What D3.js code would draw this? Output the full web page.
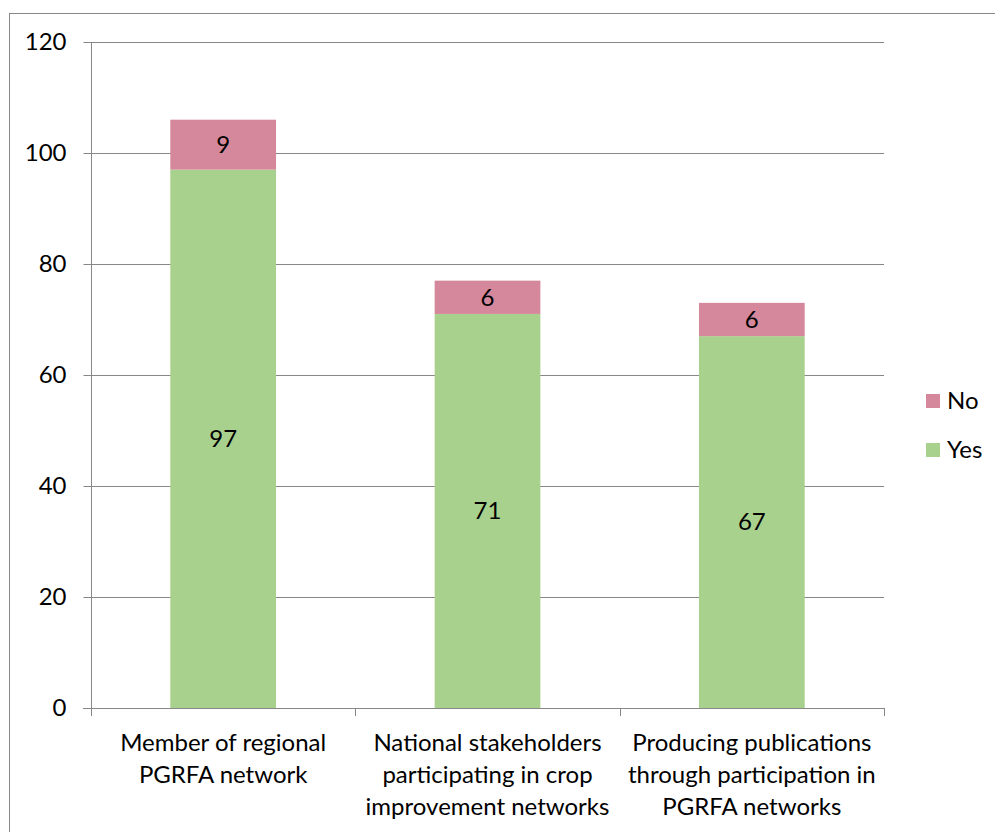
<!DOCTYPE html>
<html><head><meta charset="utf-8">
<script src="https://cdn.jsdelivr.net/npm/d3@7"></script>
<style>body{margin:0;background:#fff}svg{display:block}text{font-family:Lato,"Open Sans",sans-serif;fill:#000}</style>
</head><body><svg id="c" width="995" height="832"></svg>
<script>
const categories = [
  ["Member of regional", "PGRFA network"],
  ["National stakeholders", "participating in crop", "improvement networks"],
  ["Producing publications", "through participation in", "PGRFA networks"]
];
const yesValues = [97, 71, 67];
const noValues = [9, 6, 6];
const yTicks = [0, 20, 40, 60, 80, 100, 120];
const seriesNames = ["No", "Yes"];
const colors = {Yes: "#a9d18e", No: "#d5889b"};

const svg = d3.select("#c");
const L = 91, R = 884, T = 42, B = 708;
const gray = "#878787";
const FS = 24;

svg.append("rect").attr("x", 9.5).attr("y", 13.5).attr("width", 1000).attr("height", 1000)
  .attr("fill", "none").attr("stroke", gray).attr("stroke-width", 1);

const x = d3.scaleBand().domain(d3.range(categories.length)).range([L, R]).paddingInner(0.6).paddingOuter(0.3);
const band = d3.scaleBand().domain(d3.range(categories.length)).range([L, R]);
const y = d3.scaleLinear().domain([0, 120]).range([B, T]);

// gridlines
svg.append("g").selectAll("line").data(yTicks.filter(d => d > 0)).join("line")
  .attr("x1", L).attr("x2", R).attr("y1", d => Math.round(y(d)) + 0.5).attr("y2", d => Math.round(y(d)) + 0.5)
  .attr("stroke", gray).attr("stroke-width", 1);

// bars
const stacked = categories.map((c, i) => ({i, yes: yesValues[i], no: noValues[i]}));
const g = svg.append("g");
g.selectAll("rect.yes").data(stacked).join("rect").attr("class", "yes")
  .attr("x", d => x(d.i)).attr("width", x.bandwidth())
  .attr("y", d => y(d.yes)).attr("height", d => y(0) - y(d.yes)).attr("fill", colors.Yes);
g.selectAll("rect.no").data(stacked).join("rect").attr("class", "no")
  .attr("x", d => x(d.i)).attr("width", x.bandwidth())
  .attr("y", d => y(d.yes + d.no)).attr("height", d => y(d.yes) - y(d.yes + d.no)).attr("fill", colors.No);

// data labels
g.selectAll("text.ly").data(stacked).join("text")
  .attr("x", d => x(d.i) + x.bandwidth() / 2).attr("y", d => y(d.yes / 2)).attr("dy", "0.35em")
  .attr("text-anchor", "middle").attr("font-size", FS).text(d => d.yes);
g.selectAll("text.ln").data(stacked).join("text")
  .attr("x", d => x(d.i) + x.bandwidth() / 2).attr("y", d => y(d.yes + d.no / 2)).attr("dy", "0.35em")
  .attr("text-anchor", "middle").attr("font-size", FS).text(d => d.no);

// y axis
const ya = svg.append("g").attr("transform", `translate(${L + 0.5},0)`)
  .call(d3.axisLeft(y).tickValues(yTicks).tickSize(8).tickPadding(17));
ya.select(".domain").attr("stroke", gray).attr("d", `M0,${T}V${B}`);
ya.selectAll(".tick line").attr("stroke", gray);
ya.selectAll(".tick text").attr("font-size", FS).attr("font-family", "Lato,'Open Sans',sans-serif").attr("fill", "#000");

// x axis
svg.append("line").attr("x1", L - 8).attr("x2", R).attr("y1", B + 0.5).attr("y2", B + 0.5).attr("stroke", gray);
const xt = d3.range(categories.length + 1).map(i => i < categories.length ? band(i) : R);
svg.append("g").selectAll("line").data(xt).join("line")
  .attr("x1", d => Math.round(d) + 0.5).attr("x2", d => Math.round(d) + 0.5)
  .attr("y1", B).attr("y2", B + 8).attr("stroke", gray);

const lab = svg.append("g").selectAll("text").data(categories).join("text")
  .attr("text-anchor", "middle").attr("font-size", FS)
  .attr("transform", (d, i) => `translate(${band(i) + band.bandwidth() / 2},${B + 43})`);
lab.selectAll("tspan").data(d => d).join("tspan")
  .attr("x", 0).attr("dy", (d, j) => j === 0 ? 0 : 32).text(d => d);

// legend
const leg = svg.append("g").attr("transform", "translate(926,394)");
const li = leg.selectAll("g").data(seriesNames).join("g").attr("transform", (d, i) => `translate(0,${i * 49})`);
li.append("rect").attr("width", 14).attr("height", 14).attr("fill", d => colors[d]);
li.append("text").attr("x", 21).attr("y", 7).attr("dy", "0.35em").attr("font-size", FS).text(d => d);
</script></body></html>
